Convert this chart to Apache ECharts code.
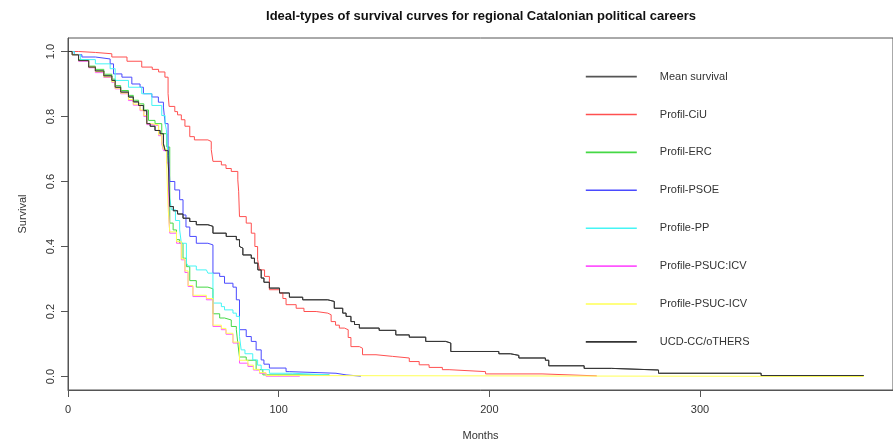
<!DOCTYPE html>
<html>
<head>
<meta charset="utf-8">
<script src="https://cdn.jsdelivr.net/npm/echarts@6/dist/echarts.min.js"></script>
<style>
  html, body { margin: 0; padding: 0; background: #fff; }
  #chart { width: 893px; height: 447px; }
</style>
</head>
<body>
<div id="chart"></div>
<script>
// Kaplan-Meier style survival estimates: [month, survival] at each drop
const profilCiU = [
  [0,1],[5,0.997],[13,0.993],[20.8,0.983],[28,0.97],[35,0.952],[40,0.945],[43,0.937],[46,0.921],
  [47.5,0.87],[48,0.831],[50.7,0.815],[52,0.805],[53.8,0.79],[55.5,0.77],[57.8,0.738],[60,0.728],
  [66.4,0.723],[68,0.698],[68.8,0.662],[72.8,0.651],[75,0.64],[77.5,0.631],[80.6,0.605],[81,0.57],
  [81.4,0.492],[84.6,0.472],[87,0.441],[88.7,0.40],[90,0.36],[90.9,0.328],[93.3,0.308],[95.6,0.267],
  [100.4,0.257],[102,0.24],[103.5,0.221],[108.3,0.21],[112,0.2],[117.8,0.195],[123.3,0.19],
  [124.9,0.169],[127,0.158],[128.8,0.149],[131.2,0.144],[133,0.12],[134.3,0.092],[138.3,0.087],
  [139.8,0.067],[146.2,0.062],[154,0.057],[162,0.046],[166.7,0.036],[171.4,0.028],[177.7,0.021],
  [180.9,0.015],[198.2,0.008],[225,0.002],[251,0.002]
];
const profilERC = [
  [0,1],[2,0.99],[5,0.975],[9.8,0.955],[13,0.945],[17,0.93],[20.8,0.915],[22.4,0.895],[25,0.88],
  [28.7,0.865],[31,0.85],[33.5,0.839],[36,0.82],[38.2,0.788],[41.3,0.778],[44.5,0.747],[46.9,0.706],
  [48.3,0.472],[49.9,0.451],[51.5,0.421],[53,0.41],[54.6,0.364],[56.2,0.338],[57.8,0.295],
  [60.9,0.275],[66.4,0.27],[68.8,0.193],[72,0.18],[74.3,0.174],[77.5,0.154],[79.9,0.144],
  [80.6,0.103],[81.4,0.06],[84.6,0.05],[89.3,0.021],[92.5,0.005],[124,0.002]
];
const profilPSOE = [
  [0,1],[3,0.99],[6.6,0.983],[13,0.977],[20,0.962],[21.6,0.931],[25.6,0.921],[30.3,0.9],[34.2,0.89],
  [35.8,0.87],[39.8,0.86],[42.9,0.844],[45.3,0.829],[46.1,0.778],[47.5,0.708],[48,0.646],[48.3,0.6],
  [50.7,0.574],[53,0.544],[54.6,0.497],[56,0.46],[57.8,0.431],[60.9,0.41],[66.4,0.405],[68.8,0.318],
  [72,0.308],[74.3,0.287],[78.3,0.275],[79.9,0.236],[81.4,0.144],[84.6,0.123],[87,0.108],[89.3,0.082],
  [91.7,0.051],[93,0.038],[95.6,0.026],[103.5,0.015],[105,0.01],[127.2,0.005],[132,0.001],[139,0.001]
];
const profilePP = [
  [0,1],[3,0.99],[6,0.975],[13,0.962],[20,0.947],[22.4,0.911],[28.7,0.89],[35,0.87],[39.8,0.834],
  [44.5,0.803],[46.1,0.778],[46.7,0.759],[47.5,0.667],[48.3,0.55],[49.1,0.513],[51,0.48],[53,0.451],
  [53.8,0.41],[56.2,0.349],[57,0.34],[60.9,0.328],[65.7,0.323],[66.4,0.318],[68.8,0.226],[72.8,0.215],
  [74.3,0.205],[78.3,0.195],[79.9,0.185],[81.4,0.123],[82.2,0.082],[84,0.07],[87.7,0.051],[90,0.035],
  [91.7,0.021],[95.6,0.01],[106.7,0.005],[124,0.003]
];
const profilePSUCcolon = [
  [0,1],[2,0.99],[5,0.97],[9.8,0.95],[13,0.935],[17,0.92],[20.8,0.905],[22.4,0.885],[25,0.87],
  [28.7,0.849],[31,0.835],[34.2,0.818],[36,0.8],[37.4,0.775],[39.8,0.772],[43,0.741],[44.5,0.716],
  [45.3,0.695],[46.8,0.657],[47.8,0.5],[48.3,0.441],[51.5,0.41],[53.8,0.359],[55.5,0.32],[57,0.277],
  [59.3,0.246],[65.7,0.236],[68.8,0.154],[72.8,0.144],[75,0.13],[78.3,0.103],[81.4,0.041],[85.4,0.031],
  [88,0.02],[90.9,0.01],[94,0.001],[110,0.001]
];
const profilePSUCdash = [
  [0,1],[2,0.99],[5,0.972],[9.8,0.952],[13,0.938],[17,0.922],[20.8,0.907],[22.4,0.887],[25,0.872],
  [28.7,0.852],[31,0.838],[34.2,0.82],[36,0.803],[37.4,0.778],[39.8,0.774],[43,0.744],[44.5,0.72],
  [45.3,0.7],[46.8,0.66],[47.5,0.52],[48.3,0.445],[51.5,0.415],[53.8,0.362],[55.5,0.325],[57,0.28],
  [59.3,0.25],[65.7,0.24],[68.8,0.158],[72.8,0.148],[75,0.133],[78.3,0.106],[81.4,0.05],[85.4,0.035],
  [88,0.022],[90.9,0.012],[94,0.003],[100,0],[377.7,0]
];
const ucdOthers = [
  [0,1],[2,0.99],[5,0.972],[9.8,0.952],[13,0.94],[17,0.925],[20.8,0.911],[22.4,0.89],[25,0.875],
  [28.7,0.86],[31,0.845],[33.5,0.834],[35.8,0.818],[37.4,0.778],[39,0.77],[41.3,0.757],[43.7,0.747],
  [45.3,0.716],[46.1,0.695],[47.5,0.68],[48.3,0.523],[50,0.51],[52,0.5],[54.6,0.487],[57.8,0.477],
  [60.9,0.467],[66.4,0.462],[68.8,0.441],[75.1,0.431],[79.9,0.421],[81.4,0.4],[82,0.395],[83,0.374],
  [87,0.364],[88.5,0.349],[90.1,0.328],[91.7,0.303],[93,0.29],[95.6,0.272],[100.4,0.257],[105.1,0.244],
  [111.4,0.236],[123.3,0.231],[126.4,0.21],[130.4,0.195],[132,0.185],[134.3,0.169],[136,0.16],
  [138.3,0.149],[147.7,0.142],[155.6,0.128],[162,0.121],[169.8,0.108],[179.3,0.103],[181.7,0.077],
  [204.5,0.07],[210,0.065],[214,0.057],[226.6,0.05],[228.2,0.033],[245,0.025],[258,0.02],
  [280.3,0.01],[329,0.003],[377.7,0.003]
];
// overall curve coincides with the dark curve above
const meanSurvival = ucdOthers;

const seriesNames = ['Mean survival','Profil-CiU','Profil-ERC','Profil-PSOE','Profile-PP',
                     'Profile-PSUC:ICV','Profile-PSUC-ICV','UCD-CC/oTHERS'];
const seriesData = [meanSurvival, profilCiU, profilERC, profilPSOE, profilePP,
                    profilePSUCcolon, profilePSUCdash, ucdOthers];
const seriesColors = ['#555555','#ff5050','#45d845','#4a4aff','#45f5f5','#ff55ff','#ffff55','#333333'];

const xTicks = [0, 100, 200, 300];
const yTicks = [0, 0.2, 0.4, 0.6, 0.8, 1.0];

const FONT = 'Liberation Sans, Arial, sans-serif';
const chart = echarts.init(document.getElementById('chart'), null, { renderer: 'canvas' });

chart.setOption({
  animation: false,
  backgroundColor: '#ffffff',
  title: {
    text: 'Ideal-types of survival curves for regional Catalonian political careers',
    left: 476, top: 5, textAlign: 'center',
    textStyle: { fontFamily: FONT, fontWeight: 'bold', fontSize: 13, color: '#111' }
  },
  grid: { left: 68, top: 38, right: -2, bottom: 57, show: true, borderColor: '#555', borderWidth: 1 },
  legend: {
    orient: 'vertical', left: 580, top: 66,
    itemWidth: 51, itemHeight: 14, itemGap: 26.7,
    data: seriesNames,
    itemStyle: { opacity: 0 },
    lineStyle: { width: 1.6 },
    textStyle: { fontFamily: FONT, fontSize: 11, color: '#333', padding: [0, 0, 0, 18] }
  },
  xAxis: {
    type: 'value', min: 0, max: 391.6,
    name: 'Months', nameLocation: 'middle', nameGap: 40,
    nameTextStyle: { fontFamily: FONT, fontSize: 11, color: '#333' },
    axisLine: { show: true, onZero: false, lineStyle: { color: '#555' } },
    axisTick: { show: true, length: 7, lineStyle: { color: '#555' }, customValues: xTicks },
    axisLabel: { fontFamily: FONT, fontSize: 11, color: '#333', margin: 14, customValues: xTicks },
    splitLine: { show: false }
  },
  yAxis: {
    type: 'value', min: -0.0415, max: 1.0415,
    name: 'Survival', nameLocation: 'middle', nameGap: 40, nameRotate: 90,
    nameTextStyle: { fontFamily: FONT, fontSize: 11, color: '#333' },
    axisLine: { show: true, lineStyle: { color: '#555' } },
    axisTick: { show: true, length: 7, lineStyle: { color: '#555' }, customValues: yTicks },
    axisLabel: {
      fontFamily: FONT, fontSize: 11, color: '#333', margin: 12, rotate: 90,
      customValues: yTicks, formatter: v => v.toFixed(1)
    },
    splitLine: { show: false }
  },
  series: seriesNames.map((name, i) => ({
    name,
    type: 'line',
    step: 'end',
    data: seriesData[i],
    symbol: 'none',
    showSymbol: false,
    color: seriesColors[i],
    lineStyle: { width: 1, color: seriesColors[i] },
    emphasis: { disabled: true }
  }))
});
</script>
</body>
</html>
